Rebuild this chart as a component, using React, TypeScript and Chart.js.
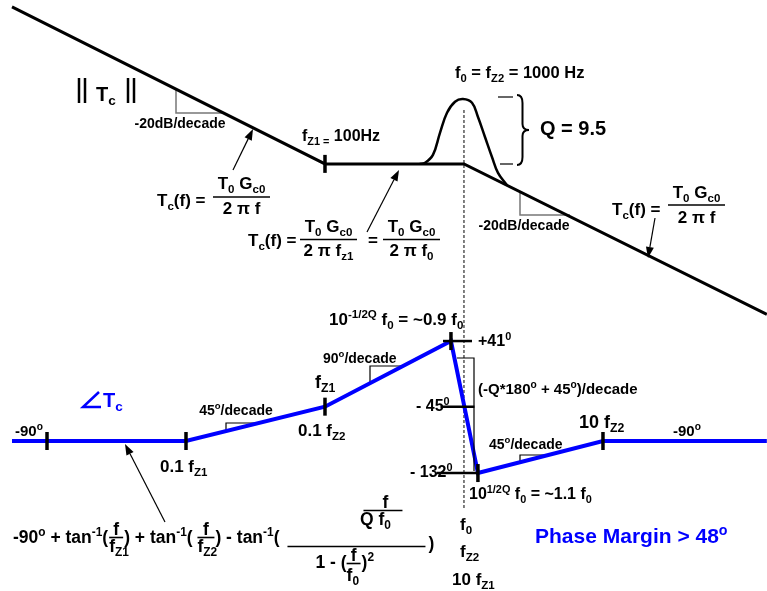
import React, { useEffect, useRef } from 'react';
import { Chart, registerables } from 'chart.js';

Chart.register(...registerables);

// Loop gain magnitude asymptote: frequency (Hz) and level (dB)
const magFreq = [0.56, 100, 1000, 151000];
const magDb = [45.5, 0, 0, -43.6];

// Resonant peak of the complex zero pair at f0 (Q = 9.5)
const peakFreq = [480, 524, 598, 672, 755, 862, 984, 1142, 1261, 1416, 1590, 1757, 2040];
const peakDb = [0, 0.3, 2.6, 9.0, 14.8, 18.0, 18.8, 17.7, 13.6, 7.8, 2.0, -2.6, -6.2];

// Phase asymptote (degrees)
const phaseFreq = [0.56, 10, 100, 806, 1260, 10000, 151000];
const phaseDeg = [-90, -90, -45, 41, -132, -90, -90];

// Break-point ticks on the phase curve
const phaseTickFreq = [1, 10, 100, 806, 1260, 10000];
const phaseTickDeg = [-90, -90, -45, 41, -132, -90];

// Phase levels marked on the f0 line
const levelFreq = [898, 898, 898];
const levelDeg = [41, -45, -132];
const levelHalfLen = [14.5, 17, 20.5];

// Break-point tick on the magnitude curve (fZ1)
const magTickFreq = [100];
const magTickDb = [0];

const F0 = 1000;

const FAMILY = "'Liberation Sans', Arial, Helvetica, sans-serif";
const BLUE = '#0000ff';
const font = (s: number) => `bold ${s}px ${FAMILY}`;

type Seg = { t: string; k: 0 | 1 | 2 };
type Align = 'left' | 'center' | 'right';

// "_{..}" = subscript, "^{..}" = superscript
function parse(s: string): Seg[] {
  const out: Seg[] = [];
  let buf = '';
  let i = 0;
  while (i < s.length) {
    const c = s[i];
    if ((c === '_' || c === '^') && s[i + 1] === '{') {
      if (buf) { out.push({ t: buf, k: 0 }); buf = ''; }
      const end = s.indexOf('}', i);
      out.push({ t: s.slice(i + 2, end), k: c === '_' ? 1 : 2 });
      i = end + 1;
    } else {
      buf += c;
      i++;
    }
  }
  if (buf) out.push({ t: buf, k: 0 });
  return out;
}

function rich(
  ctx: CanvasRenderingContext2D,
  str: string,
  x: number,
  y: number,
  size: number,
  color = '#000',
  align: Align = 'left'
) {
  const segs = parse(str);
  let w = 0;
  for (const s of segs) {
    ctx.font = font(s.k ? size * 0.68 : size);
    w += ctx.measureText(s.t).width;
  }
  let cx = align === 'left' ? x : align === 'center' ? x - w / 2 : x - w;
  ctx.fillStyle = color;
  ctx.textAlign = 'left';
  ctx.textBaseline = 'alphabetic';
  for (const s of segs) {
    const sz = s.k ? size * 0.68 : size;
    const dy = s.k === 1 ? size * 0.22 : s.k === 2 ? -size * 0.4 : 0;
    ctx.font = font(sz);
    ctx.fillText(s.t, cx, y + dy);
    cx += ctx.measureText(s.t).width;
  }
  return cx;
}

function seg(ctx: CanvasRenderingContext2D, x1: number, y1: number, x2: number, y2: number) {
  ctx.beginPath();
  ctx.moveTo(x1, y1);
  ctx.lineTo(x2, y2);
  ctx.stroke();
}

function poly(ctx: CanvasRenderingContext2D, pts: number[][]) {
  ctx.beginPath();
  ctx.moveTo(pts[0][0], pts[0][1]);
  for (let i = 1; i < pts.length; i++) ctx.lineTo(pts[i][0], pts[i][1]);
  ctx.stroke();
}

function arrow(ctx: CanvasRenderingContext2D, x1: number, y1: number, x2: number, y2: number) {
  ctx.strokeStyle = '#000';
  ctx.fillStyle = '#000';
  ctx.lineWidth = 1.2;
  const a = Math.atan2(y2 - y1, x2 - x1);
  const L = 11;
  const W = 4;
  const bx = x2 - Math.cos(a) * L;
  const by = y2 - Math.sin(a) * L;
  seg(ctx, x1, y1, bx, by);
  ctx.beginPath();
  ctx.moveTo(x2, y2);
  ctx.lineTo(bx + Math.sin(a) * W, by - Math.cos(a) * W);
  ctx.lineTo(bx - Math.sin(a) * W, by + Math.cos(a) * W);
  ctx.closePath();
  ctx.fill();
}

function frac(
  ctx: CanvasRenderingContext2D,
  x1: number,
  x2: number,
  barY: number,
  num: string,
  den: string,
  size: number,
  numBase: number,
  denBase: number,
  denAlign: Align = 'center'
) {
  ctx.strokeStyle = '#000';
  ctx.lineWidth = 1.6;
  seg(ctx, x1, barY, x2, barY);
  const c = (x1 + x2) / 2;
  rich(ctx, num, c, numBase, size, '#000', 'center');
  rich(ctx, den, denAlign === 'left' ? x1 : c, denBase, size, '#000', denAlign);
}

const bodeNotes = {
  id: 'bodeNotes',
  beforeDatasetsDraw(chart: any) {
    const ctx: CanvasRenderingContext2D = chart.ctx;
    ctx.save();
    const x0 = chart.scales.x.getPixelForValue(F0);
    ctx.strokeStyle = '#000';
    ctx.lineWidth = 1;
    ctx.setLineDash([3, 2]);
    seg(ctx, x0, 110, x0, 508);
    ctx.setLineDash([]);

    // slope triangles on the magnitude curve
    ctx.strokeStyle = '#777';
    ctx.lineWidth = 1.5;
    poly(ctx, [[176, 89], [176, 113], [222, 113]]);
    poly(ctx, [[520, 191], [520, 215], [570, 215]]);

    // slope triangles on the phase curve
    ctx.strokeStyle = '#000';
    ctx.lineWidth = 1.2;
    poly(ctx, [[226, 431], [226, 423], [259, 423]]);
    poly(ctx, [[370, 383], [370, 366], [403, 366]]);
    poly(ctx, [[520, 462], [520, 455], [548, 455]]);
    ctx.restore();
  },
  afterDatasetsDraw(chart: any) {
    const ctx: CanvasRenderingContext2D = chart.ctx;
    ctx.save();

    // ---- magnitude ----
    ctx.strokeStyle = '#000';
    ctx.lineWidth = 2.5;
    for (const bx of [79, 85, 128, 134]) seg(ctx, bx, 78, bx, 103);
    rich(ctx, 'T_{c}', 96, 101, 20);

    rich(ctx, '-20dB/decade', 180, 128, 14, '#000', 'center');
    rich(ctx, '-20dB/decade', 524, 230, 14, '#000', 'center');

    arrow(ctx, 233, 170, 253, 129);
    rich(ctx, 'T_{c}(f) =', 157, 206, 17);
    frac(ctx, 213, 270, 197, 'T_{0} G_{c0}', '2 \u03c0 f', 17, 189, 213.5);

    rich(ctx, 'f_{Z1 =} 100Hz', 302, 141, 16);

    arrow(ctx, 367, 232, 399, 170);
    rich(ctx, 'T_{c}(f) =', 248, 246, 17);
    frac(ctx, 300, 357, 239.5, 'T_{0} G_{c0}', '2 \u03c0 f_{z1}', 17, 232, 256);
    rich(ctx, '=', 373, 246, 17, '#000', 'center');
    frac(ctx, 383, 440, 239.5, 'T_{0} G_{c0}', '2 \u03c0 f_{0}', 17, 232, 256);

    rich(ctx, 'f_{0} = f_{Z2} = 1000 Hz', 455, 78, 16.5);

    ctx.strokeStyle = '#000';
    ctx.lineWidth = 1.2;
    seg(ctx, 498, 97, 513, 97);
    seg(ctx, 500, 164, 513, 164);
    // curly brace spanning the peak height
    ctx.lineWidth = 2;
    ctx.beginPath();
    const bx0 = 517, bx1 = 529, bm = 522.5, yT = 95, yB = 165, yM = 130;
    ctx.moveTo(bx0, yT);
    ctx.quadraticCurveTo(bm, yT, bm, yT + 8);
    ctx.lineTo(bm, yM - 6);
    ctx.quadraticCurveTo(bm, yM, bx1, yM);
    ctx.quadraticCurveTo(bm, yM, bm, yM + 6);
    ctx.lineTo(bm, yB - 8);
    ctx.quadraticCurveTo(bm, yB, bx0, yB);
    ctx.stroke();
    rich(ctx, 'Q = 9.5', 540, 135, 20);

    arrow(ctx, 655, 218, 648, 258);
    rich(ctx, 'T_{c}(f) =', 612, 215, 17);
    frac(ctx, 668, 725, 205, 'T_{0} G_{c0}', '2 \u03c0 f', 17, 198, 222.5);

    // ---- phase ----
    ctx.strokeStyle = BLUE;
    ctx.lineWidth = 2.5;
    poly(ctx, [[99, 392], [83, 407], [101, 407]]);
    rich(ctx, 'T_{c}', 103, 407, 20, BLUE);

    rich(ctx, '-90^{o}', 15, 436, 15);
    rich(ctx, '-90^{o}', 673, 436, 15);
    rich(ctx, '0.1 f_{Z1}', 160, 472, 17);
    rich(ctx, '45^{o}/decade', 236, 415, 14, '#000', 'center');
    rich(ctx, 'f_{Z1}', 315, 388, 18);
    rich(ctx, '0.1 f_{Z2}', 298, 436, 17);
    rich(ctx, '90^{o}/decade', 323, 363, 14);
    rich(ctx, '10^{-1/2Q} f_{0} = ~0.9 f_{0}', 329, 325, 17);
    rich(ctx, '+41^{0}', 478, 346, 16);

    ctx.strokeStyle = '#000';
    ctx.lineWidth = 1.2;
    poly(ctx, [[457, 358], [474, 358], [474, 471]]);
    rich(ctx, '(-Q*180^{o} + 45^{o})/decade', 478, 394, 15);
    rich(ctx, '- 45^{0}', 416, 411, 16);
    rich(ctx, '- 132^{0}', 410, 477, 16);
    rich(ctx, '45^{o}/decade', 489, 449, 14);
    rich(ctx, '10 f_{Z2}', 579, 428, 18);
    rich(ctx, '10^{1/2Q} f_{0} = ~1.1 f_{0}', 469, 499, 16);

    rich(ctx, 'f_{0}', 460, 530, 17);
    rich(ctx, 'f_{Z2}', 460, 557, 17);
    rich(ctx, '10 f_{Z1}', 452, 585, 17);

    rich(ctx, 'Phase Margin > 48^{o}', 535, 543, 21, BLUE);

    // phase expression
    arrow(ctx, 165, 522, 125, 444);
    const S = 17.5;
    const B = 543;
    let x = rich(ctx, '-90^{o} + tan^{-1}(', 13, B, S);
    frac(ctx, x + 1, x + 15, 537.5, 'f', 'f_{Z1}', S, 535, 552, 'left');
    x = rich(ctx, ') + tan^{-1}( ', x + 16, B, S);
    frac(ctx, x, x + 17, 537.5, 'f', 'f_{Z2}', S, 535, 552, 'left');
    x = rich(ctx, ') - tan^{-1}(', x + 18, B, S);
    const b0 = x + 8;
    ctx.strokeStyle = '#000';
    ctx.lineWidth = 1.6;
    seg(ctx, b0, 546.5, b0 + 138, 546.5);
    seg(ctx, b0 + 76, 510.5, b0 + 115, 510.5);
    rich(ctx, 'f', b0 + 98, 508, S, '#000', 'center');
    rich(ctx, 'Q f_{0}', b0 + 88, 525, S, '#000', 'center');
    const dx = rich(ctx, '1 - (', b0 + 28, 568, S);
    frac(ctx, dx, dx + 14, 563.5, 'f', 'f_{0}', S, 561, 581, 'left');
    rich(ctx, ')^{2}', dx + 15, 568, S);
    rich(ctx, ')', b0 + 141, 549, S);

    ctx.restore();
  },
};

export default function App() {
  const ref = useRef<HTMLCanvasElement>(null);

  useEffect(() => {
    if (!ref.current) return;
    const pts = (xs: number[], ys: number[]) => xs.map((x, i) => ({ x, y: ys[i] }));
    const chart = new Chart(ref.current, {
      type: 'line',
      data: {
        datasets: [
          {
            label: 'fZ1 tick',
            data: pts(magTickFreq, magTickDb),
            yAxisID: 'yMag',
            showLine: false,
            pointStyle: 'line',
            rotation: 90,
            pointRadius: 9,
            borderColor: '#000',
            borderWidth: 3.5,
          },
          {
            label: 'phase ticks',
            data: pts(phaseTickFreq, phaseTickDeg),
            yAxisID: 'yPh',
            showLine: false,
            pointStyle: 'line',
            rotation: 90,
            pointRadius: 9,
            borderColor: '#000',
            borderWidth: 3.5,
          },
          {
            label: 'phase levels',
            data: pts(levelFreq, levelDeg),
            yAxisID: 'yPh',
            showLine: false,
            pointStyle: 'line',
            rotation: 0,
            pointRadius: levelHalfLen,
            borderColor: '#000',
            borderWidth: 2.5,
          },
          {
            label: 'phase',
            data: pts(phaseFreq, phaseDeg),
            yAxisID: 'yPh',
            borderColor: BLUE,
            borderWidth: 4,
            pointRadius: 0,
            tension: 0,
          },
          {
            label: 'peak',
            data: pts(peakFreq, peakDb),
            yAxisID: 'yMag',
            borderColor: '#000',
            borderWidth: 2.5,
            pointRadius: 0,
            tension: 0.4,
          },
          {
            label: 'magnitude',
            data: pts(magFreq, magDb),
            yAxisID: 'yMag',
            borderColor: '#000',
            borderWidth: 3,
            pointRadius: 0,
            tension: 0,
          },
        ],
      },
      options: {
        animation: false,
        responsive: true,
        maintainAspectRatio: false,
        events: [],
        layout: { padding: 0, autoPadding: false } as any,
        plugins: { legend: { display: false }, tooltip: { enabled: false } },
        scales: {
          x: { type: 'logarithmic', display: false, min: 0.459, max: 151400 },
          yMag: { type: 'linear', display: false, min: -123.8, max: 47.5 },
          yPh: { type: 'linear', display: false, min: -286.6, max: 488 },
        },
      },
      plugins: [bodeNotes],
    });
    return () => chart.destroy();
  }, []);

  return (
    <div style={{ position: 'fixed', left: 0, top: 0, width: 767, height: 591, background: '#fff' }}>
      <canvas ref={ref} style={{ display: 'block' }} />
    </div>
  );
}
